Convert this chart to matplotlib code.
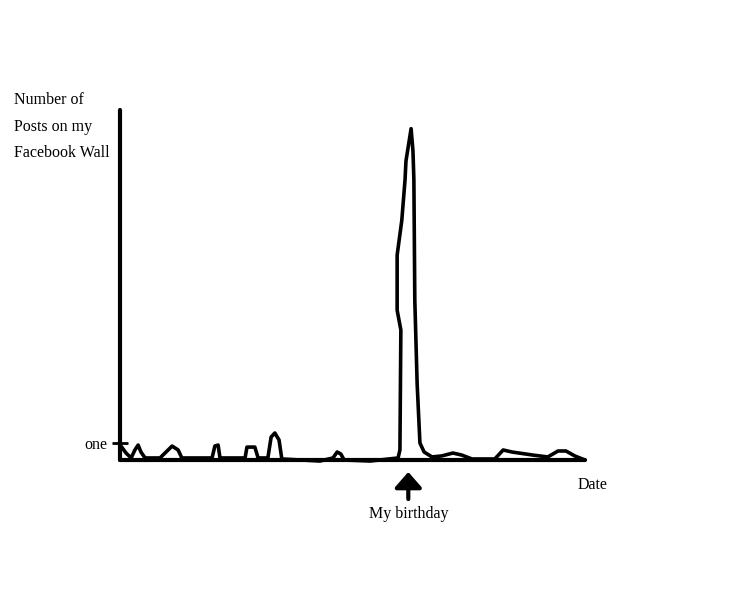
import matplotlib.pyplot as plt

# Hand-drawn "posts on my wall" curve: day index vs number of posts
days = [0.2, 1.3, 2.4, 3.2, 3.9, 4.5, 5.4, 8.6, 9.9, 11.2, 12.5, 13.3,
        19.8, 20.4, 21.1, 21.5, 26.9, 27.3, 29.0, 29.7, 31.8, 32.5, 33.3,
        34.2, 34.8, 43.0, 45.8, 46.7, 47.5, 48.2, 53.8, 59.8, 60.2, 60.4,
        59.6, 59.6, 60.6, 61.3, 61.5, 62.6, 63.0, 63.2, 63.4, 63.9, 64.5,
        65.4, 67.1, 69.2, 71.6, 73.5, 75.7, 80.6, 82.4, 84.3, 88.8, 92.0,
        94.2, 95.9, 97.8, 100.0]
posts = [0.82, 0.41, 0.12, 0.59, 0.88, 0.47, 0.12, 0.12, 0.47, 0.82, 0.59, 0.12,
         0.12, 0.82, 0.88, 0.12, 0.12, 0.76, 0.76, 0.12, 0.12, 1.35, 1.59,
         1.18, 0.06, -0.06, 0.12, 0.47, 0.35, 0.0, -0.06, 0.12, 0.59, 7.65,
         8.82, 12.06, 14.1, 16.5, 17.6, 19.5, 18.2, 16.5, 9.4, 4.5, 1.0,
         0.47, 0.18, 0.24, 0.41, 0.29, 0.06, 0.06, 0.59, 0.47, 0.29, 0.18,
         0.53, 0.53, 0.24, 0.0]
birthday = 62
ytick_values = [1]
ytick_labels = ["one"]

W, H = 745, 602
fig = plt.figure(figsize=(W / 100, H / 100), dpi=100)
ax = fig.add_axes([120 / W, (H - 460) / H, 465 / W, 350 / H])

font = dict(family="Liberation Serif", fontsize=11.5, color="black")

ax.plot(days, posts, color="black", lw=2.6, solid_joinstyle="round",
        solid_capstyle="round", clip_on=False)

ax.set_xlim(0, 100)
ax.set_ylim(0, 20.6)
for side in ["top", "right"]:
    ax.spines[side].set_visible(False)
for side in ["left", "bottom"]:
    ax.spines[side].set_linewidth(3)
    ax.spines[side].set_capstyle("round")

ax.set_xticks([])
ax.set_yticks(ytick_values)
ax.set_yticklabels(ytick_labels, **font)
ax.tick_params(axis="y", direction="inout", length=12, width=2, pad=3)

ax.annotate("My birthday", xy=(birthday, -12 / 350), xytext=(birthday, -54 / 350),
            xycoords=("data", "axes fraction"), textcoords=("data", "axes fraction"),
            ha="center", va="center",
            arrowprops=dict(arrowstyle="-|>,head_length=0.82,head_width=0.72",
                            lw=3, color="black", shrinkA=3, shrinkB=0),
            **font)

fig.text(578 / W, 1 - 485 / H, "Date", ha="left", va="center", **font)
fig.text(14 / W, 1 - 100 / H, "Number of", ha="left", va="center", **font)
fig.text(14 / W, 1 - 127 / H, "Posts on my", ha="left", va="center", **font)
fig.text(14 / W, 1 - 153 / H, "Facebook Wall", ha="left", va="center", **font)

fig.savefig("out.png", dpi=100)
